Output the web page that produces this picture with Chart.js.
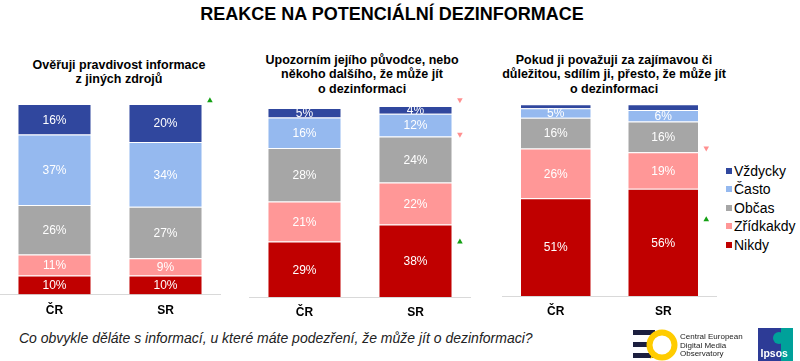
<!DOCTYPE html>
<html><head><meta charset="utf-8">
<script src="https://cdn.jsdelivr.net/npm/chart.js@4/dist/chart.umd.min.js"></script>
<style>
body{margin:0;width:800px;height:361px;position:relative;overflow:hidden;background:#fff;font-family:"Liberation Sans",Arial,sans-serif;color:#000;}
.abs{position:absolute;}
#title{left:0;top:3px;width:784px;text-align:center;font-weight:bold;font-size:18px;line-height:22px;}
.ptitle{text-align:center;font-weight:bold;font-size:12.5px;line-height:14.5px;white-space:nowrap;}
#footer{left:19px;top:330px;font-style:italic;font-size:14px;line-height:16px;color:#222;white-space:nowrap;}
#legend{left:726px;top:162px;font-size:14px;line-height:18.4px;}
#legend div{position:relative;padding-left:8px;white-space:nowrap;}
#legend span{position:absolute;left:0;top:6px;width:6px;height:6px;}
canvas{position:absolute;}
</style></head><body>
<div id="title" class="abs">REAKCE NA POTENCIÁLNÍ DEZINFORMACE</div>
<div id="pt0" class="abs ptitle"></div>
<div id="pt1" class="abs ptitle"></div>
<div id="pt2" class="abs ptitle"></div>
<canvas id="c0"></canvas>
<canvas id="c1"></canvas>
<canvas id="c2"></canvas>
<div id="legend" class="abs"></div>
<div id="footer" class="abs">Co obvykle děláte s informací, u které máte podezření, že může jít o dezinformaci?</div>
<svg class="abs" style="left:620px;top:320px" width="180" height="41" viewBox="0 0 180 41">
  <rect x="13" y="10" width="22" height="5" fill="#1c1f3f"/>
  <rect x="13" y="22" width="22" height="5" fill="#1c1f3f"/>
  <rect x="13" y="33" width="22" height="5" fill="#1c1f3f"/>
  <circle cx="42" cy="25" r="12.5" fill="#fff" stroke="#ffcc00" stroke-width="6"/>
  <path d="M33 33 L30 39 L37 35 Z" fill="#ffcc00"/>
  <text x="60" y="19" font-size="8" fill="#222" font-family="Liberation Sans, Arial, sans-serif">Central European</text>
  <text x="60" y="27.5" font-size="8" fill="#222" font-family="Liberation Sans, Arial, sans-serif">Digital Media</text>
  <text x="60" y="36" font-size="8" fill="#222" font-family="Liberation Sans, Arial, sans-serif">Observatory</text>
  <rect x="138" y="8" width="35" height="34" fill="#2d3b96"/>
  <rect x="161" y="8" width="12" height="34" fill="#00a19a"/>
  <circle cx="159" cy="18" r="6" fill="#00a19a"/>
  <text x="140.5" y="37" font-size="10.5" font-weight="bold" fill="#fff" font-family="Liberation Sans, Arial, sans-serif">Ipsos</text>
</svg>
<script>
// ---- data ----
const categories = ['ČR', 'SR'];
const seriesNames = ['Nikdy', 'Zřídkakdy', 'Občas', 'Často', 'Vždycky'];
const panelTitles = [
  ['Ověřuji pravdivost informace', 'z jiných zdrojů'],
  ['Upozorním jejího původce, nebo', 'někoho dalšího, že může jít', 'o dezinformaci'],
  ['Pokud ji považuji za zajímavou či', 'důležitou, sdílím ji, přesto, že může jít', 'o dezinformaci']
];
// values per panel: [ČR, SR]
const nikdy     = [[10, 10], [29, 38], [51, 56]];
const zridkakdy = [[11, 9],  [21, 22], [26, 19]];
const obcas     = [[26, 27], [28, 24], [16, 16]];
const casto     = [[37, 34], [16, 12], [5, 6]];
const vzdycky   = [[16, 20], [5, 4],   [2, 3]];
// significance markers (next to SR bar)
const markerPanel = [0, 1, 1, 1, 2, 2];
const markerValue = [102, 103, 85, 29, 77, 40];
const markerUp    = [true, false, false, true, false, true];

// ---- styling ----
const seriesData = [nikdy, zridkakdy, obcas, casto, vzdycky];
const seriesColors = ['#c00000', '#ff9797', '#a6a6a6', '#95b9ef', '#30479e'];
const FONT = '"Liberation Sans", Arial, sans-serif';
const panels = [
  {left: -1,  width: 222, pt: 14, pb: 4.1, bp: 0.667, tl: 19,  tw: 200, tt: 57.75},
  {left: 249, width: 222, pt: 16, pb: 1.6, bp: 0.667, tl: 262, tw: 200, tt: 52.75},
  {left: 502, width: 215, pt: 14.3, pb: 2.6, bp: 0.665, tl: 484, tw: 260, tt: 52.75}
];

// legend
const lg = document.getElementById('legend');
for (let k = seriesNames.length - 1; k >= 0; k--) {
  const d = document.createElement('div');
  d.innerHTML = '<span style="background:' + seriesColors[k] + '"></span>' + seriesNames[k];
  lg.appendChild(d);
}

const valueLabels = {
  id: 'valueLabels',
  afterDatasetsDraw(chart) {
    const ctx = chart.ctx;
    ctx.save();
    ctx.font = '12px ' + FONT;
    ctx.fillStyle = '#fff';
    ctx.textAlign = 'center';
    ctx.textBaseline = 'middle';
    chart.data.datasets.forEach((ds, i) => {
      const meta = chart.getDatasetMeta(i);
      meta.data.forEach((el, j) => {
        const v = ds.data[j];
        if (v < 4) return;
        ctx.fillText(v + '%', el.x, (el.y + el.base) / 2 + 1);
      });
    });
    // significance triangles, placed through the chart scales
    const xs = chart.scales.x, ys = chart.scales.y;
    const step = xs.getPixelForValue(1) - xs.getPixelForValue(0);
    const mx = xs.getPixelForValue(1) + 0.4 * step;
    const pi = chart.options.panelIndex;
    markerPanel.forEach((mp, m) => {
      if (mp !== pi) return;
      const y = ys.getPixelForValue(markerValue[m]);
      const up = markerUp[m];
      ctx.fillStyle = up ? '#13a013' : '#ff8f8f';
      ctx.beginPath();
      if (up) { ctx.moveTo(mx, y - 3); ctx.lineTo(mx + 2.8, y + 2); ctx.lineTo(mx - 2.8, y + 2); }
      else    { ctx.moveTo(mx, y + 3); ctx.lineTo(mx + 2.8, y - 2); ctx.lineTo(mx - 2.8, y - 2); }
      ctx.closePath();
      ctx.fill();
    });
    ctx.restore();
  }
};

panels.forEach((p, pi) => {
  const t = document.getElementById('pt' + pi);
  t.style.left = p.tl + 'px'; t.style.width = p.tw + 'px'; t.style.top = p.tt + 'px';
  t.innerHTML = panelTitles[pi].join('<br>');

  const cv = document.getElementById('c' + pi);
  cv.style.left = p.left + 'px'; cv.style.top = '90px';
  cv.width = p.width; cv.height = 240;

  const datasets = seriesData.map((s, k) => ({
    type: 'bar', label: seriesNames[k], data: s[pi],
    backgroundColor: seriesColors[k], borderColor: 'rgba(255,255,255,0.3)', borderWidth: 1,
    barPercentage: p.bp, categoryPercentage: 1
  }));

  new Chart(cv, {
    type: 'bar',
    data: {labels: categories, datasets},
    options: {
      panelIndex: pi,
      responsive: false, animation: false,
      layout: {padding: {top: p.pt, bottom: p.pb, left: 0, right: 0}},
      plugins: {legend: {display: false}, tooltip: {enabled: false}},
      scales: {
        x: {type: 'category', stacked: true, grid: {display: false, drawTicks: false},
            border: {display: true, color: '#d9d9d9', width: 1},
            ticks: {color: '#000', padding: 8.5, font: {size: 12, weight: 'bold', family: FONT}}},
        y: {type: 'linear', stacked: true, display: false, min: 0, max: 100}
      }
    },
    plugins: [valueLabels]
  });
});
</script>
</body></html>
